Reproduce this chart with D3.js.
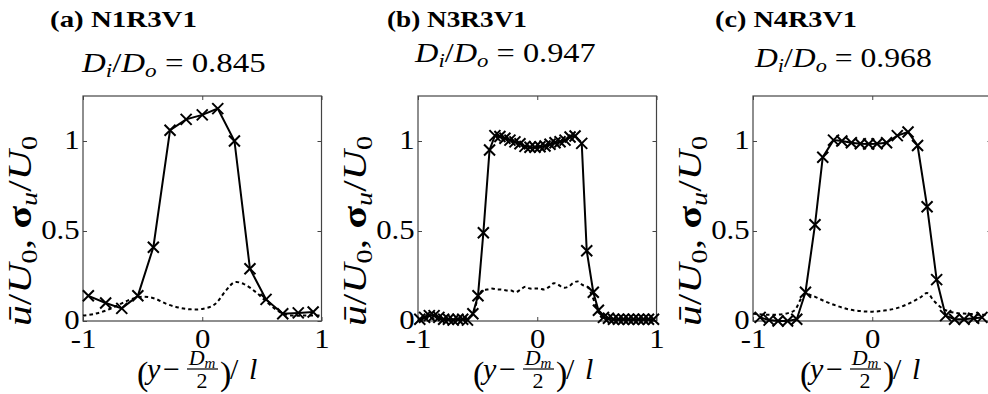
<!DOCTYPE html>
<html>
<head>
<meta charset="utf-8">
<script src="https://cdn.jsdelivr.net/npm/d3@7"></script>
<style>
  body { margin: 0; background: #fff; }
</style>
</head>
<body>
<svg id="fig" width="988" height="394"></svg>
<script>
// ---- data ----
const panelTitles = ["(a) N1R3V1", "(b) N3R3V1", "(c) N4R3V1"];
const ratioValues = ["0.845", "0.947", "0.968"];
const xTicks = [-1, 0, 1];
const yTicks = [0, 0.5, 1];

// (a) N1R3V1, mean velocity (markers) and rms (dashed)
const aMeanX = [-0.955, -0.81, -0.675, -0.54, -0.41, -0.27, -0.135, 0.0, 0.13, 0.27, 0.40, 0.535, 0.675, 0.805, 0.93];
const aMeanY = [0.14, 0.10, 0.07, 0.14, 0.41, 1.06, 1.12, 1.145, 1.18, 1.00, 0.29, 0.12, 0.04, 0.045, 0.05];
const aRmsX = [-1, -0.9, -0.8, -0.7, -0.6, -0.5, -0.4, -0.3, -0.2, -0.1, 0, 0.1, 0.2, 0.27, 0.35, 0.45, 0.55, 0.65, 0.75, 0.85, 1.0];
const aRmsY = [0.03, 0.04, 0.06, 0.09, 0.12, 0.135, 0.125, 0.095, 0.075, 0.065, 0.067, 0.09, 0.17, 0.215, 0.205, 0.16, 0.10, 0.05, 0.03, 0.03, 0.03];

// (b) N3R3V1
const bMeanX = [-0.985, -0.945, -0.905, -0.865, -0.825, -0.785, -0.745, -0.705, -0.665, -0.625, -0.585, -0.54,
  -0.497, -0.452, -0.40, -0.355, -0.313, -0.271, -0.229, -0.187, -0.145, -0.103, -0.061, -0.019, 0.023, 0.065,
  0.107, 0.149, 0.191, 0.233, 0.275, 0.317, 0.373, 0.415, 0.47, 0.513, 0.555, 0.597, 0.639, 0.681, 0.723, 0.765,
  0.807, 0.849, 0.891, 0.933, 0.975];
const bMeanY = [0.01, 0.02, 0.03, 0.03, 0.02, 0.01, 0.01, 0.005, 0.01, 0.01, 0.005, 0.04,
  0.14, 0.49, 0.95, 1.03, 1.025, 1.015, 1.005, 0.995, 0.985, 0.97, 0.965, 0.965, 0.968, 0.972,
  0.982, 0.99, 0.996, 1.005, 1.022, 1.028, 0.987, 0.39, 0.16, 0.06, 0.02, 0.015, 0.01, 0.01, 0.01, 0.01,
  0.01, 0.01, 0.01, 0.01, 0.01];
const bRmsX = [-1, -0.9, -0.8, -0.7, -0.6, -0.55, -0.5, -0.46, -0.42, -0.38, -0.34, -0.3, -0.26, -0.22, -0.18,
  -0.14, -0.1, -0.06, -0.02, 0.02, 0.06, 0.10, 0.14, 0.18, 0.22, 0.26, 0.30, 0.34, 0.38, 0.42, 0.46, 0.50, 0.54,
  0.6, 0.7, 0.8, 0.9, 1.0];
const bRmsY = [0.01, 0.015, 0.01, 0.01, 0.02, 0.03, 0.12, 0.17, 0.175, 0.18, 0.175, 0.175, 0.17, 0.17, 0.16,
  0.175, 0.19, 0.18, 0.18, 0.18, 0.175, 0.19, 0.21, 0.2, 0.185, 0.19, 0.21, 0.22, 0.2, 0.19, 0.14, 0.07, 0.02,
  0.01, 0.01, 0.01, 0.01, 0.01];

// (c) N4R3V1
const cMeanX = [-0.94, -0.865, -0.79, -0.71, -0.633, -0.56, -0.48, -0.415, -0.325, -0.255, -0.175, -0.10, -0.03,
  0.04, 0.12, 0.21, 0.30, 0.38, 0.46, 0.54, 0.615, 0.69, 0.77, 0.85, 0.92];
const cMeanY = [0.02, 0.005, 0.0, 0.0, 0.01, 0.16, 0.535, 0.91, 1.005, 1.0, 0.99, 0.985, 0.983,
  0.985, 0.99, 1.03, 1.05, 0.975, 0.635, 0.23, 0.03, 0.01, 0.01, 0.015, 0.02];
const cRmsX = [-1, -0.9, -0.8, -0.7, -0.65, -0.6, -0.56, -0.5, -0.4, -0.3, -0.2, -0.1, 0, 0.1, 0.2, 0.3, 0.4,
  0.46, 0.52, 0.6, 0.7, 0.8, 0.9, 1.0];
const cRmsY = [0.04, 0.035, 0.035, 0.045, 0.06, 0.12, 0.15, 0.14, 0.11, 0.085, 0.065, 0.055, 0.052, 0.058,
  0.07, 0.095, 0.13, 0.155, 0.11, 0.065, 0.045, 0.04, 0.035, 0.035];

// ---- layout ----
const FONT = "'Liberation Serif'";
const panels = [
  {left: 83,  title: 50,  titleW: 147, subX: 82,  subY: 72, subW: 185, xlab: 200, mx: aMeanX, my: aMeanY, sx: aRmsX, sy: aRmsY},
  {left: 418, title: 387, titleW: 140, subX: 415, subY: 62, subW: 182, xlab: 536, mx: bMeanX, my: bMeanY, sx: bRmsX, sy: bRmsY},
  {left: 753, title: 715, titleW: 142, subX: 755, subY: 67, subW: 178, xlab: 863, mx: cMeanX, my: cMeanY, sx: cRmsX, sy: cRmsY}
];
const plotW = 238.5, plotTop = 96, plotBottom = 321;
const tickStretch = 1.1;

const svg = d3.select("#fig");

function txt(parent, size) {
  return parent.append("text").attr("font-family", FONT).attr("font-size", size).attr("fill", "#000");
}

// squeeze/stretch a text along its own baseline so it covers the width seen in the figure
function fitWidth(sel, w) {
  let bw = sel.node().getBBox().width;
  return bw > 0 ? w / bw : 1;
}

panels.forEach(function(p, i) {
  let x = d3.scaleLinear().domain([-1, 1]).range([0, plotW]);
  let y = d3.scaleLinear().domain([0, 1.25]).range([plotBottom - plotTop, 0]);
  let h = plotBottom - plotTop;

  // titles
  let t = txt(svg, 24).attr("font-weight", "bold").text(panelTitles[i]);
  t.attr("transform", "translate(" + p.title + ",27) scale(" + fitWidth(t, p.titleW) + ",1)");

  let sub = txt(svg, 27);
  sub.append("tspan").attr("font-style", "italic").text("D");
  sub.append("tspan").attr("font-style", "italic").attr("font-size", 19).attr("dy", 5).text("i");
  sub.append("tspan").attr("dy", -5).text("/");
  sub.append("tspan").attr("font-style", "italic").text("D");
  sub.append("tspan").attr("font-style", "italic").attr("font-size", 19).attr("dy", 5).text("o");
  sub.append("tspan").attr("dy", -5).text(" = " + ratioValues[i]);
  sub.attr("transform", "translate(" + p.subX + "," + p.subY + ") scale(" + fitWidth(sub, p.subW) + ",1)");

  let g = svg.append("g").attr("transform", "translate(" + p.left + "," + plotTop + ")");

  // axes, ticks pointing inward on all four sides
  let xAxis = g.append("g").attr("transform", "translate(0," + h + ")")
    .call(d3.axisBottom(x).tickValues(xTicks).tickSize(-4).tickPadding(7).tickFormat(d => String(d)));
  let yAxis = g.append("g")
    .call(d3.axisLeft(y).tickValues(yTicks).tickSize(-4).tickPadding(3).tickFormat(d => String(d)));
  let topAxis = g.append("g")
    .call(d3.axisTop(x).tickValues(xTicks).tickSize(-4).tickFormat(""));
  let rightAxis = g.append("g").attr("transform", "translate(" + plotW + ",0)")
    .call(d3.axisRight(y).tickValues(yTicks).tickSize(-4).tickFormat(""));
  [xAxis, yAxis, topAxis, rightAxis].forEach(function(a) {
    a.attr("font-family", null).attr("font-size", null);
    a.select(".domain").remove();
    a.selectAll(".tick line").attr("stroke", "#444");
    a.selectAll("text").attr("font-family", FONT).attr("font-size", 28).attr("fill", "#000")
      .attr("transform", "scale(" + tickStretch + ",1)");
  });
  yAxis.selectAll("text").attr("dy", "0.25em");
  // tick labels that fall outside the picture are dropped (the right panel is cut)
  xAxis.selectAll(".tick").filter(d => p.left + x(d) > 980).select("text").remove();

  g.append("rect")
    .attr("width", plotW).attr("height", h)
    .attr("fill", "none").attr("stroke", "#444").attr("stroke-width", 1.2);

  // rms profile (dashed)
  let rms = p.sx.map((v, k) => ({x: v, y: p.sy[k]}));
  let line = d3.line().x(d => x(d.x)).y(d => y(d.y));
  g.append("path")
    .attr("d", line.curve(d3.curveCatmullRom)(rms))
    .attr("fill", "none").attr("stroke", "#000")
    .attr("stroke-width", 2).attr("stroke-dasharray", "3.5,3");

  // mean profile (solid + x markers)
  let mean = p.mx.map((v, k) => ({x: v, y: p.my[k]}));
  g.append("path")
    .attr("d", d3.line().x(d => x(d.x)).y(d => y(d.y))(mean))
    .attr("fill", "none").attr("stroke", "#000").attr("stroke-width", 2);
  let s = 5.5;
  g.append("g").selectAll("path").data(mean).enter().append("path")
    .attr("d", d => {
      let px = x(d.x), py = y(d.y);
      return "M" + (px - s) + "," + (py - s) + "L" + (px + s) + "," + (py + s) +
             "M" + (px - s) + "," + (py + s) + "L" + (px + s) + "," + (py - s);
    })
    .attr("stroke", "#000").attr("stroke-width", 2);

  // y label
  let yl = txt(svg, 34).attr("text-anchor", "middle");
  yl.append("tspan").attr("font-style", "italic").text("ū");
  yl.append("tspan").text("/");
  yl.append("tspan").attr("font-style", "italic").text("U");
  yl.append("tspan").attr("font-size", 23).attr("dy", 6).text("0");
  yl.append("tspan").attr("dy", -6).text(", ");
  yl.append("tspan").attr("font-weight", "bold").text("σ");
  yl.append("tspan").attr("font-style", "italic").attr("font-size", 23).attr("dy", 6).text("u");
  yl.append("tspan").attr("dy", -6).text("/");
  yl.append("tspan").attr("font-style", "italic").text("U");
  yl.append("tspan").attr("font-size", 23).attr("dy", 6).text("0");
  yl.attr("transform", "translate(" + (p.left - 52) + ",231) rotate(-90) scale(" + fitWidth(yl, 190) + ",1)");

  // x label: (y − Dm/2)/l
  let xl = svg.append("g").attr("transform", "translate(" + p.xlab + ",0)");
  txt(xl, 34).attr("x", -63).attr("y", 385).text("(");
  txt(xl, 30).attr("x", -53).attr("y", 379).attr("font-style", "italic").text("y");
  txt(xl, 30).attr("x", -37).attr("y", 379).text("−");
  let num = txt(xl, 22).attr("x", 2).attr("y", 365).attr("text-anchor", "middle");
  num.append("tspan").attr("font-style", "italic").text("D");
  num.append("tspan").attr("font-style", "italic").attr("font-size", 15).attr("dy", 3).text("m");
  xl.append("line").attr("x1", -13).attr("x2", 18).attr("y1", 369).attr("y2", 369)
    .attr("stroke", "#000").attr("stroke-width", 1.2);
  txt(xl, 22).attr("x", 2).attr("y", 388).attr("text-anchor", "middle").text("2");
  txt(xl, 34).attr("x", 20).attr("y", 385).text(")");
  txt(xl, 30).attr("x", 30).attr("y", 379).text("/");
  txt(xl, 30).attr("x", 49).attr("y", 379).attr("font-style", "italic").text("l");
});
</script>
</body>
</html>
